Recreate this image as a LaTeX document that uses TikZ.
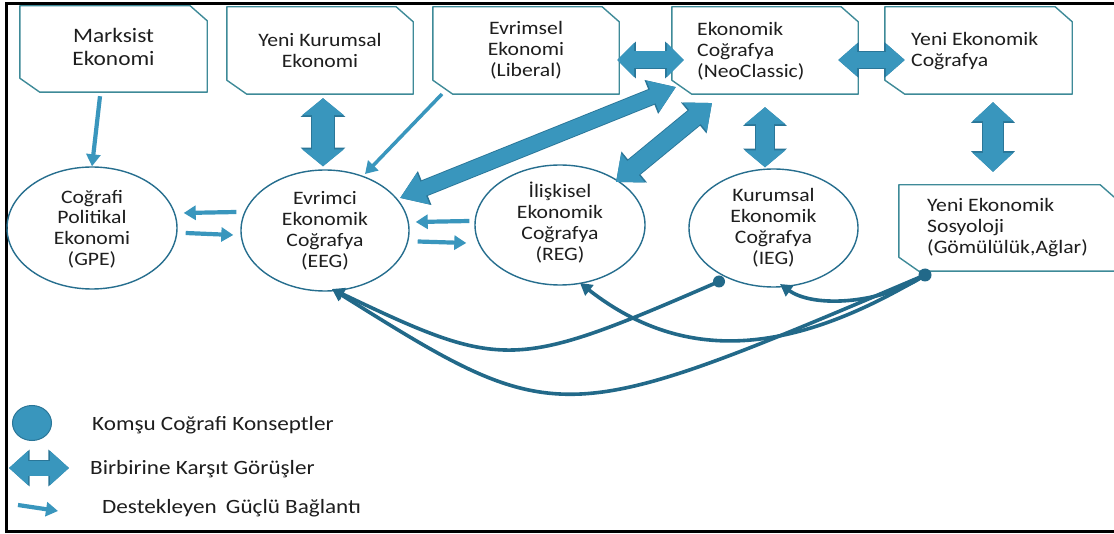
\documentclass[tikz,border=0pt]{standalone}
\usepackage{fontspec}
\setmainfont{Carlito}[FakeStretch=1.14]
\usetikzlibrary{shapes.geometric,arrows.meta}

\definecolor{arrowfill}{RGB}{57,150,189}
\definecolor{arrowedge}{RGB}{42,118,152}
\definecolor{boxline}{RGB}{62,138,152}
\definecolor{ellline}{RGB}{38,110,142}
\definecolor{curveline}{RGB}{34,105,137}
\definecolor{ink}{RGB}{30,30,30}

\newcommand\conceptfont{\fontsize{19}{20.7}\selectfont}
\newcommand\bigconceptfont{\fontsize{20.5}{23}\selectfont}
\newcommand\keyfont{\fontsize{20.3}{24}\selectfont}
% stacked lines whose reference point is the first baseline
\newcommand\textlines[2][c]{\begin{tabular}[t]{@{}#1@{}}#2\end{tabular}}

% outline of a box with its top right and bottom left corners cut off
\newcommand\noteoutline[1]{%
  \draw[draw=boxline, line width=1.4pt, line join=round]
    (#1.north west) -- ([xshift=-17pt]#1.north east) -- ([yshift=-15pt]#1.north east)
    -- (#1.south east) -- ([xshift=20pt]#1.south west) -- ([yshift=14pt]#1.south west) -- cycle;}

% two-layer block arrow with heads at both ends: from, to, shaft, head width, head length
\newcommand\blockarrow[5]{%
  \pgfmathsetmacro\baW{#3+1.8}%
  \pgfmathsetmacro\baH{#4+2.6}%
  \pgfmathsetmacro\baL{#5+1.6}%
  \draw[draw=arrowedge, fill=arrowedge, line width=\baW pt,
        {Triangle[length=\baL pt,width=\baH pt]}-{Triangle[length=\baL pt,width=\baH pt]}] #1 -- #2;
  \draw[draw=arrowfill, fill=arrowfill, line width=#3pt,
        {Triangle[length=#5pt,width=#4pt]}-{Triangle[length=#5pt,width=#4pt]}] #1 -- #2;}

\tikzset{
  notebox/.style={rectangle, inner sep=0pt},
  concept/.style={ellipse, draw=ellline, line width=1.4pt, inner sep=0pt},
  label text/.style={inner sep=0pt, text=ink, font=\conceptfont, anchor=base},
  left text/.style={inner sep=0pt, text=ink, font=\conceptfont, anchor=base west},
  keytext/.style={inner sep=0pt, text=ink, font=\keyfont, anchor=base west},
  support/.style={draw=arrowfill, line width=4.2pt, -{Triangle[length=12pt,width=14pt]}},
  tie/.style={draw=curveline, line width=3.6pt, -{Triangle[length=12pt,width=13pt]}},
  dot/.style={circle, fill=curveline, inner sep=0pt, minimum size=13pt},
}

\begin{document}
\begin{tikzpicture}[x=1pt, y=-1pt]
\useasboundingbox (0,0) rectangle (1114,534);
\fill[white] (0,0) rectangle (1114,534);

% frame, open on the right
\draw[line width=3pt] (1125,3.5) -- (6.5,3.5) -- (6.5,531) -- (1125,531);

% source disciplines
\node[notebox, minimum width=187pt, minimum height=86pt] (b1) at (113.5,49) {};
\node[notebox, minimum width=186pt, minimum height=87pt] (b2) at (320,50.5) {};
\node[notebox, minimum width=186pt, minimum height=87pt] (b3) at (526,50.5) {};
\node[notebox, minimum width=186pt, minimum height=87pt] (b4) at (765,50.5) {};
\node[notebox, minimum width=187pt, minimum height=87pt] (b5) at (978.5,50.5) {};
\node[notebox, minimum width=218pt, minimum height=86pt] (b6) at (1008,228) {};
\foreach \b in {b1,b2,b3,b4,b5,b6} {\noteoutline{\b}}
\node[label text, font=\bigconceptfont] (t1) at (113.5,42.7) {\textlines{Marksist\\Ekonomi}};
\node[label text] (t2) at (320,46.7) {\textlines{Yeni Kurumsal\\Ekonomi}};
\node[label text] (t3) at (526,35) {\textlines{Evrimsel\\Ekonomi\\(Liberal)}};
\node[left text] (t4) at (697,36) {\textlines[l]{Ekonomik\\Coğrafya\\(NeoClassic)}};
\node[left text] (t5) at (911,46) {\textlines[l]{Yeni Ekonomik\\Coğrafya}};
\node[left text] (t6) at (927,212) {\textlines[l]{Yeni Ekonomik\\Sosyoloji\\(Gömülülük,Ağlar)}};

% geographies
\node[concept, minimum width=170pt, minimum height=122pt] (gpe) at (92,228) {};
\node[concept, minimum width=168pt, minimum height=121pt] (eeg) at (325,230.5) {};
\node[concept, minimum width=170pt, minimum height=120pt] (reg) at (560,225) {};
\node[concept, minimum width=169pt, minimum height=118pt] (ieg) at (773.5,228) {};
\node[label text] (tg) at (92,203.3) {\textlines{Coğrafi\\Politikal\\Ekonomi\\(GPE)}};
\node[label text] (te) at (325,205) {\textlines{Evrimci\\Ekonomik\\Coğrafya\\(EEG)}};
\node[label text] (tr) at (560,198) {\textlines{İlişkisel\\Ekonomik\\Coğrafya\\(REG)}};
\node[label text] (ti) at (773.5,202) {\textlines{Kurumsal\\Ekonomik\\Coğrafya\\(IEG)}};

% opposing views
\blockarrow{([shift={(3,4)}]b2.south)}{([shift={(-2,-3)}]eeg.north)}{22}{41}{17}
\blockarrow{([shift={(-2,9.5)}]b3.east)}{([shift={(12,9.5)}]b4.west)}{17}{33}{17}
\blockarrow{([shift={(-20,9.5)}]b4.east)}{([shift={(20,9.5)}]b5.west)}{16}{32}{19}
\blockarrow{([shift={(0,13)}]b4.south)}{([shift={(-8.5,-1)}]ieg.north)}{18}{40}{17}
\blockarrow{([shift={(14.5,8)}]b5.south)}{([shift={(-15,-13)}]b6.north)}{20}{40}{19}
\blockarrow{([shift={(75,-32.5)}]eeg.center)}{([shift={(-89,36.5)}]b4.center)}{15}{32}{25}
\blockarrow{([shift={(56,-43)}]reg.center)}{([shift={(-53,52.5)}]b4.center)}{18}{36}{22}

% strong supporting links
\draw[support] ([shift={(-13.5,4)}]b1.south) -- (gpe.north);
\draw[support, line width=3.5pt] ([shift={(-84,43.5)}]b3.center) -- ([shift={(40,-56.5)}]eeg.center);
\draw[support] ([shift={(-4,-18.5)}]eeg.west) -- ([shift={(6,-15)}]gpe.east);
\draw[support] ([shift={(8,5)}]gpe.east) -- ([shift={(-7,4.5)}]eeg.west);
\draw[support] ([shift={(-5,-4)}]reg.west) -- ([shift={(6,-8.5)}]eeg.east);
\draw[support] ([shift={(8,11)}]eeg.east) -- ([shift={(-8,18)}]reg.west);

% neighbouring concepts
\node[dot] (d6) at ([shift={(-83,47)}]b6.center) {};
\node[dot, minimum size=12pt] (d7) at ([shift={(-54.5,53.5)}]ieg.center) {};
\draw[tie] (d6.center) .. controls +(-40,28) and +(35,25) .. ([shift={(6.5,56)}]ieg.center);
\draw[tie] (d6.center) .. controls +(-125,75) and +(110,86) .. ([shift={(20,58)}]reg.center);
\draw[tie] (d6.center) .. controls +(-365,155) and +(227,142) .. ([shift={(7,58.5)}]eeg.center);
\draw[tie] (d7.center) .. controls +(-205,89) and +(172,82) .. ([shift={(7,58.5)}]eeg.center);

% key
\node[ellipse, fill=arrowfill, draw=arrowedge, line width=1pt, inner sep=0pt,
      minimum width=39pt, minimum height=35pt] (k1) at (32,423) {};
\coordinate (kA) at (9,468);
\coordinate (kB) at (69,468);
\blockarrow{(kA)}{(kB)}{15}{33}{19}
\coordinate (kC) at (18,505);
\coordinate (kD) at (58,511);
\draw[support] (kC) -- (kD);
\node[keytext] (kt1) at (92,431) {Komşu Coğrafi Konseptler};
\node[keytext] (kt2) at (90,474) {Birbirine Karşıt Görüşler};
\node[keytext] (kt3) at (102,513) {Destekleyen\hspace{0.45em}Güçlü Bağlantı};
\end{tikzpicture}
\end{document}
